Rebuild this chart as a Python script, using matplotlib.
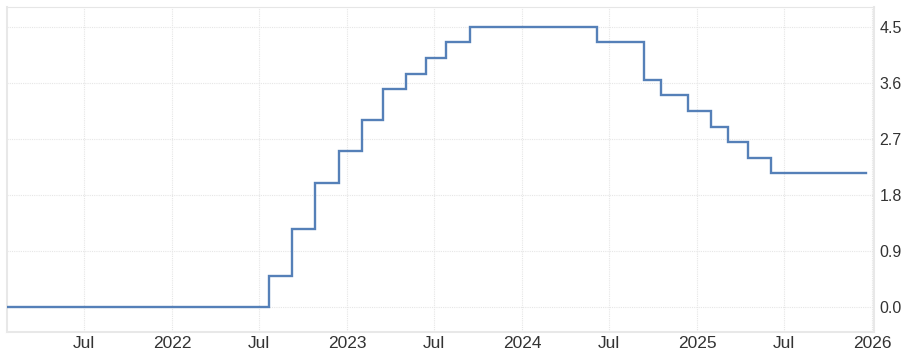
import matplotlib
matplotlib.use("Agg")
import matplotlib.pyplot as plt
import datetime as dt

# Step change dates (decision dates) and the rate from that date on
dates = ["2021-01-21", "2022-07-21", "2022-09-08", "2022-10-27", "2022-12-15",
         "2023-02-02", "2023-03-16", "2023-05-04", "2023-06-15", "2023-07-27",
         "2023-09-14", "2024-06-06", "2024-09-12", "2024-10-17", "2024-12-12",
         "2025-01-30", "2025-03-06", "2025-04-17", "2025-06-05", "2025-12-19"]
rates = [0.00, 0.50, 1.25, 2.00, 2.50,
         3.00, 3.50, 3.75, 4.00, 4.25,
         4.50, 4.25, 3.65, 3.40, 3.15,
         2.90, 2.65, 2.40, 2.15, 2.15]

yticks = [0.0, 0.9, 1.8, 2.7, 3.6, 4.5]
ytick_labels = ["0.0", "0.9", "1.8", "2.7", "3.6", "4.5"]
xtick_dates = ["2021-07-01", "2022-01-01", "2022-07-01", "2023-01-01", "2023-07-01",
               "2024-01-01", "2024-07-01", "2025-01-01", "2025-07-01", "2026-01-01"]
xtick_labels = ["Jul", "2022", "Jul", "2023", "Jul", "2024", "Jul", "2025", "Jul", "2026"]

plt.rcParams['font.family'] = ['Liberation Sans', 'DejaVu Sans']

fig = plt.figure(figsize=(9.11, 3.56), dpi=100)
ax = fig.add_axes([7/911, 1 - 332/356, (874 - 7)/911, (332 - 7)/356])

d = [dt.datetime.strptime(s, "%Y-%m-%d") for s in dates]
ax.step(d, rates, where="post", color="#5580b8", lw=1.7, solid_joinstyle="miter", zorder=3)

ax.set_xlim(dt.datetime(2021, 1, 21), dt.datetime(2026, 1, 5))
ax.set_ylim(-0.40, 4.82)

ax.set_xticks([dt.datetime.strptime(s, "%Y-%m-%d") for s in xtick_dates])
ax.set_xticklabels(xtick_labels)
ax.set_yticks(yticks)
ax.set_yticklabels(ytick_labels)

ax.yaxis.tick_right()
ax.tick_params(axis="y", length=0, pad=4, labelsize=11.5, labelcolor="#333333")
ax.tick_params(axis="x", length=0, pad=3, labelsize=12.5, labelcolor="#333333")

ax.grid(True, color="#e6e6e6", linestyle=(0, (1, 1)), linewidth=0.8)
for s in ["left", "right", "bottom"]:
    ax.spines[s].set_color("#e8e8e8")
    ax.spines[s].set_linewidth(1.5)
ax.spines["top"].set_color("#e6e6e6")
ax.spines["top"].set_linestyle((0, (1, 1)))
ax.spines["top"].set_linewidth(0.8)

fig.savefig("out.png", dpi=100)
